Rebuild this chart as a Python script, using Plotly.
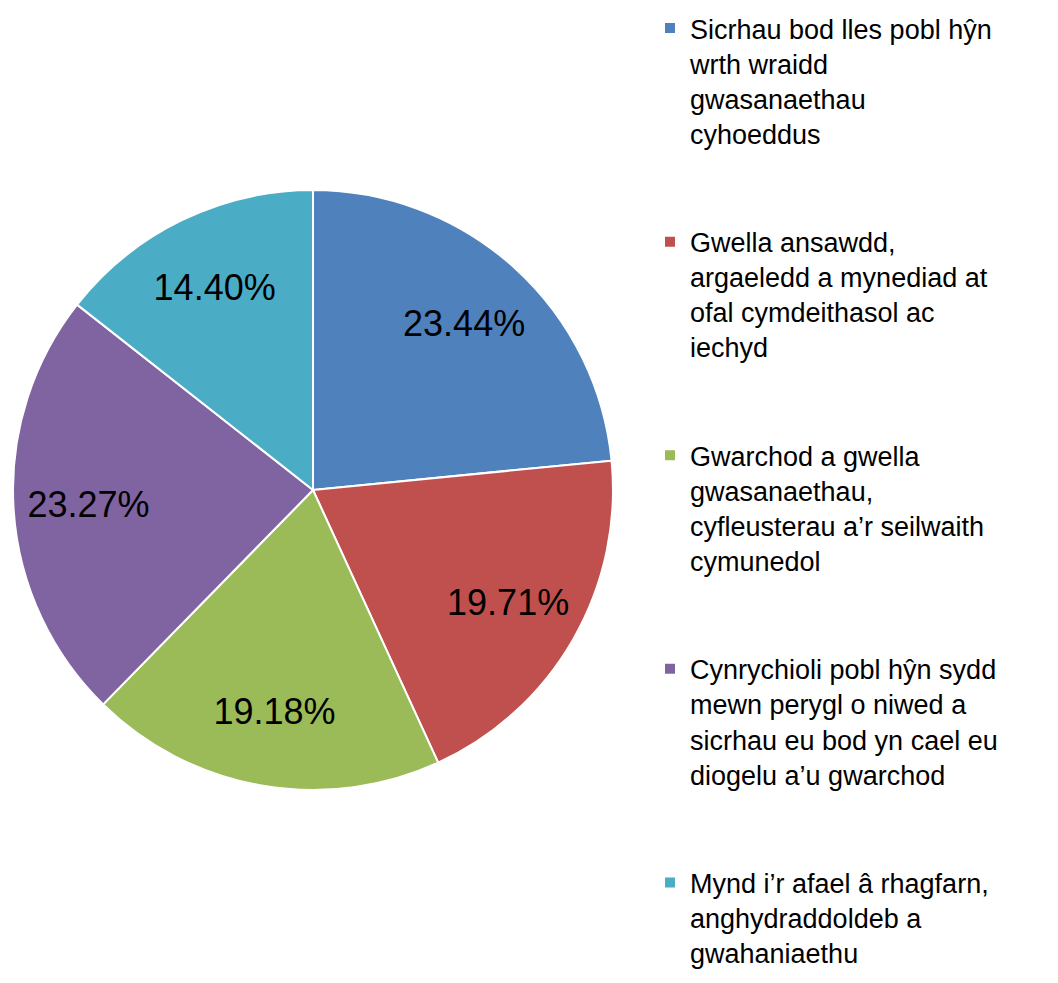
import plotly.graph_objects as go

labels = [
    "Sicrhau bod lles pobl hŷn<br>wrth wraidd<br>gwasanaethau<br>cyhoeddus",
    "Gwella ansawdd,<br>argaeledd a mynediad at<br>ofal cymdeithasol ac<br>iechyd",
    "Gwarchod a gwella<br>gwasanaethau,<br>cyfleusterau a’r seilwaith<br>cymunedol",
    "Cynrychioli pobl hŷn sydd<br>mewn perygl o niwed a<br>sicrhau eu bod yn cael eu<br>diogelu a’u gwarchod",
    "Mynd i’r afael â rhagfarn,<br>anghydraddoldeb a<br>gwahaniaethu",
]
values = [23.44, 19.71, 19.18, 23.27, 14.40]
colors = ["#4F81BD", "#C0504D", "#9BBB59", "#8064A2", "#4BACC6"]

# pad legend entries (except the last) so each occupies the same vertical block
legend_names = [l + "<br> <br> " for l in labels[:-1]] + [labels[-1]]

W, H = 1058, 983
cx, cy, r = 313, 490, 300
dom = dict(x=[(cx - r) / W, (cx + r) / W], y=[(H - cy - r) / H, (H - cy + r) / H])

fig = go.Figure()
fig.add_trace(go.Pie(
    labels=legend_names,
    values=values,
    sort=False,
    direction="clockwise",
    rotation=0,
    marker=dict(colors=colors, line=dict(color="white", width=2)),
    textinfo="none",
    hoverinfo="label+percent",
    domain=dom,
))
# transparent ring used only to place the percentage labels further out
fig.add_trace(go.Pie(
    labels=legend_names,
    values=values,
    sort=False,
    direction="clockwise",
    rotation=0,
    hole=0.5,
    marker=dict(colors=["rgba(0,0,0,0)"] * len(values), line=dict(width=0)),
    texttemplate="%{percent:.2%}",
    textposition="inside",
    insidetextorientation="horizontal",
    textfont=dict(family="Liberation Sans, Arial", size=36, color="black"),
    hoverinfo="skip",
    showlegend=False,
    domain=dom,
))

fig.update_layout(
    width=W, height=H,
    margin=dict(l=0, r=0, t=0, b=0),
    paper_bgcolor="white",
    plot_bgcolor="white",
    showlegend=True,
    legend=dict(
        x=650 / W, xanchor="left",
        y=1.0 - 4 / H, yanchor="top",
        valign="top",
        maxheight=H,
        font=dict(family="Liberation Sans, Arial", size=27, color="black"),
        bgcolor="rgba(0,0,0,0)",
    ),
)

fig.write_html("out.html", config={"displayModeBar": False},
               post_script="document.body.style.margin='0';")
